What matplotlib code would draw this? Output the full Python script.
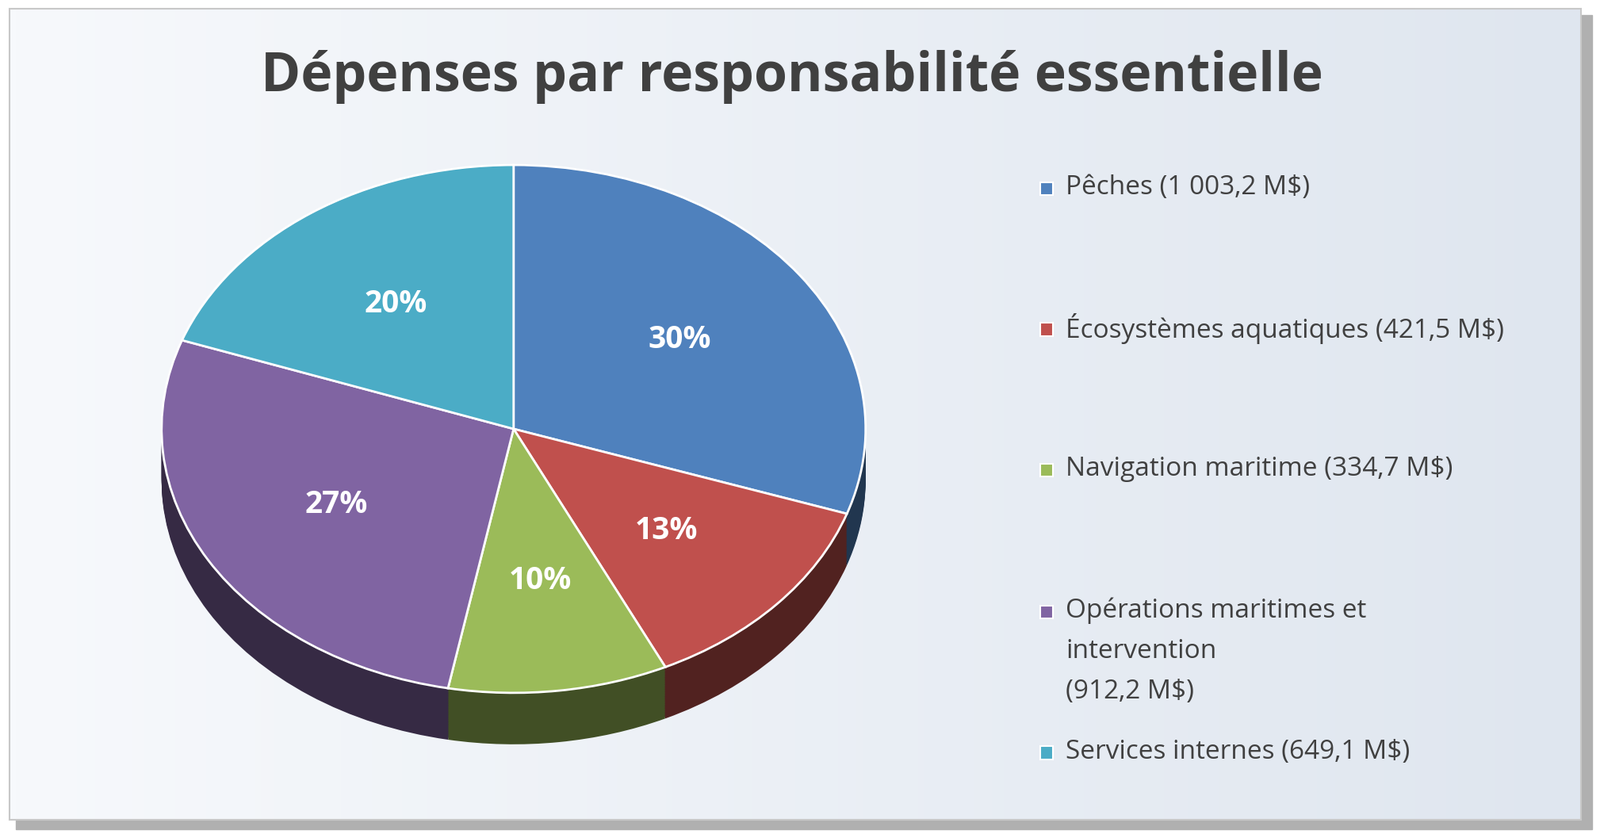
import matplotlib.pyplot as plt
import numpy as np
from matplotlib.colors import to_rgb
from matplotlib.patches import Rectangle

labels = ['Pêches (1 003,2 M$)', 'Écosystèmes aquatiques (421,5 M$)',
          'Navigation maritime (334,7 M$)',
          'Opérations maritimes et\nintervention\n(912,2 M$)',
          'Services internes (649,1 M$)']
values = [1003.2, 421.5, 334.7, 912.2, 649.1]
colors = ['#4F81BD', '#C0504D', '#9BBB59', '#8064A2', '#4BACC6']

fig = plt.figure(figsize=(20.18, 10.57), dpi=100)

# background with gradient and frame
bg = fig.add_axes([0, 0, 1, 1])
bg.set_xlim(0, 1)
bg.set_ylim(0, 1)
bg.axis('off')
grad = np.linspace(0, 1, 256).reshape(1, -1)
bg.add_patch(Rectangle((0.010, 0.010), 0.985, 0.972, color='#b0b0b0', zorder=0))
bg.imshow(np.vstack([grad] * 2), extent=(0.006, 0.988, 0.022, 0.99),
          cmap=plt.matplotlib.colors.LinearSegmentedColormap.from_list('g', ['#f7f9fc', '#dfe6ef']),
          aspect='auto', zorder=1)
bg.add_patch(Rectangle((0.006, 0.022), 0.982, 0.968, fill=False, ec='#c8c8c8', lw=1.5, zorder=2))

ax = fig.add_axes([0, 0, 0.64, 1.0])
depth = 0.195
dark = [tuple(c * 0.42 for c in to_rgb(col)) for col in colors]
for d in np.linspace(depth, 0.005, 30):
    ax.pie(values, colors=dark, startangle=90, counterclock=False,
           center=(0, -d), wedgeprops=dict(linewidth=0), frame=False)
ax.pie(values, colors=colors, startangle=90, counterclock=False,
       autopct='%1.0f%%', pctdistance=0.58,
       wedgeprops=dict(edgecolor='white', linewidth=2),
       textprops=dict(color='white', fontsize=28, fontweight='bold', family='Open Sans'))
ax.set_aspect('auto')
ax.set_xlim(-1.459, 1.450)
ax.set_ylim(-1.55, 1.625)
ax.axis('off')

fig.text(0.495, 0.908, 'Dépenses par responsabilité essentielle', ha='center', va='center',
         fontsize=49, fontweight='bold', color='#404040', family='Open Sans')

ys = [0.776, 0.608, 0.44, 0.271, 0.103]
for lab, col, y in zip(labels, colors, ys):
    fig.patches.append(Rectangle((0.650, y - 0.009), 0.008, 0.0155, transform=fig.transFigure,
                                 fc=col, ec='white', lw=1.5, figure=fig))
    fig.text(0.666, y, lab.split('\n')[0], va='center', ha='left', fontsize=24,
             color='#404040', family='Open Sans')
    for i, extra in enumerate(lab.split('\n')[1:]):
        fig.text(0.666, y - 0.048 * (i + 1), extra, va='center', ha='left', fontsize=24,
                 color='#404040', family='Open Sans')

fig.savefig('out.png', dpi=100)
